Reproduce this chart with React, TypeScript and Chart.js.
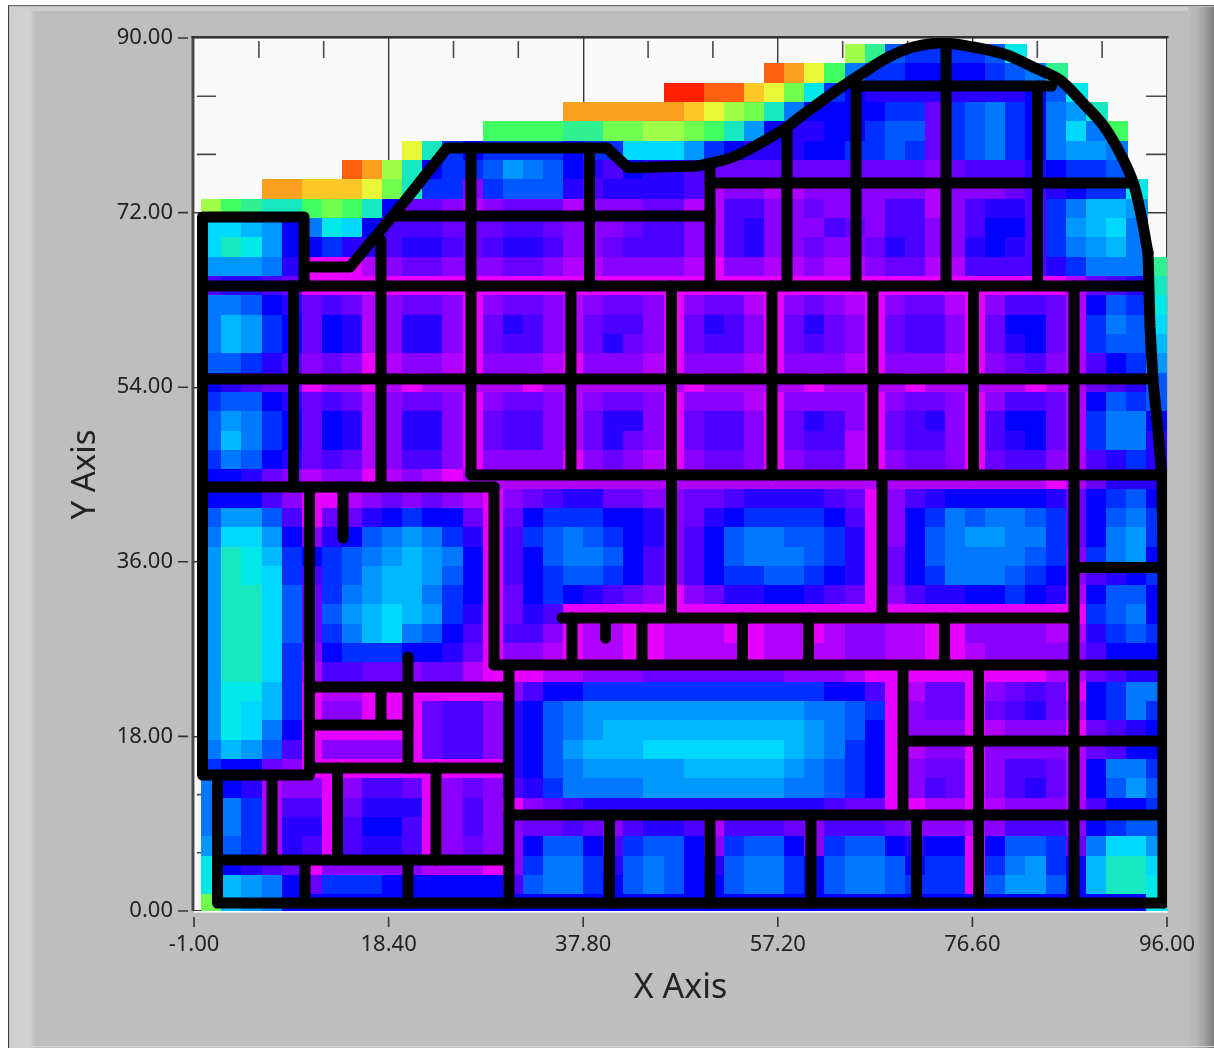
import React, { useEffect, useRef } from "react";
import { Chart, registerables } from "chart.js";

Chart.register(...registerables);

const xTicks = [-1, 18.4, 37.8, 57.2, 76.6, 96];
const yTicks = [0, 18, 36, 54, 72, 90];
const xMinorTicks = [5.47, 11.93, 24.87, 31.33, 44.27, 50.73, 63.67, 70.13, 83.07, 89.53];
const yMinorTicks = [6, 12, 24, 30, 42, 48, 60, 66, 78, 84];

// one letter per intensity step, low to high
const levels = "abcdefghijklmnopqrstuvwx";
const colors = [
  "#e600ff", "#b000ff", "#8a00ff", "#6800ff", "#4c00ff", "#2800ff", "#0000ff", "#0030ff",
  "#0058ff", "#0078ff", "#0098ff", "#00b8ff", "#00d8ff", "#00e8e8", "#18e8c0", "#30f090",
  "#40ff60", "#70ff50", "#a0ff48", "#e8f838", "#fbc828", "#fba020", "#ff6010", "#ff2000",
];

// intensity rows, top row first; "." is an empty cell
const heatRows = [
  ".......... .......... .......... ..spihhhhi n.......",
  ".......... .......... ........wv tqjhhggggh ijp.....",
  ".......... .......... ...xxwwutr nhgfffffff fgin....",
  ".......... ........vv vvvvutsroj gggghhdhij hgjko...",
  ".......... ....qqqqpp rrssrqokgf fgghiidhij hgjmjq..",
  ".......... tohghhhhgh hmmmkhgfff gghhihdhij hgjkkj..",
  ".......wvs oghhikjigf egffeddddd ddddddcdee efghhi..",
  "...vvuuutr ohhchiiife ffffebccbb ccccccbccc defghhn.",
  "sqpooqrqog ddcbcdddbc ccddbbeecc dccceebcef fehjllk.",
  "mmlkgjnmge eedddeedcc cdeecbefcc cedceecceg gehklmj.",
  "monkgghffe ffedeffecc deeecbefcc dccdfeccfg fehjklj.",
  "kkkjfaaabc ddcccddcbb ccccbaccbb cbbcddbbee eefhjjjp",
  "effedaaaaa aaaaaaaaaa aaaaaaaaaa aaaaaaaaaa aaabdefo",
  "jjigfdedbc ddcacddcbc ddcacddbac dcbacddbac eedbgihn",
  "jlkhgdgfbc ffcadfecbd eecadfecad fdcadeecad ggdbhjim",
  "jlkhgdgfbc ffcadeecbd fdcadeecad edcadeecad fgdbhiil",
  "iihfecdcab ccbacccbac ccbacccbac ccbacccbac decbeghk",
  "gfeddabbab abbbbbabbb bbbbabbbbb abbbbabbbb babbdefi",
  "hiigfdedbc ddcacddcbc ddcacccbac cccacddcac eedbgihi",
  "ikjhgdgfbc ffcadeecbd ffcadeecad fecadefcae ggdbhjjg",
  "iljhgdgfbc ffcadeecbd fdcadeecad eebadeecae fgdbhjjf",
  "hjigfdedbc eecaccccac dcbacddcac ddbacddcad eecbefhf",
  "ggfdcbccab cbabbbbbbb bbbbbbbbbb bbbbbbbbbb bbabdfff",
  "gggecaabcd cdcbacdeff ddccddefff fedacefggg ggfdghig",
  "ikkieaddfg hggdadghhh ggfcdfghhh hgeacghjij jihdgijh",
  "jmmkgcfgij kjhfaehiji hgfcegijji ihfacgijkk jjhdgjkh",
  "konlhghijk lkjgaegijj igecegijjj ihfadgijjj jihchjkg",
  "konmhehikl lkigaeghii hgeceghhii hgfadghjjj ihgcefgh",
  "koomidhjkl ljhgadghgf edcacdffgg fedaceffgg hgfbgiig",
  "koomidiklm lkhfadfeaa aaaaaaaaaa aaaaaaaaaa aaaahijg",
  "koomidhjlm jigeaeecab baabbbaabb abccbbaacc ccbbfhih",
  "koomhcghhh ggfdaccbab baabbbbabb bbccbbaabc cccceggg",
  "koomhbeedd cddbaaabbc ccdddddddc ccbaaaaaaa aabbdeff",
  "knnlhabbaa aaaaaceggh hhhhhhhhhh hggeabddac dedaghjj",
  "knmlhaccaa adeecfgijk kkkkkkkkkk jjihacddad efdbghjh",
  "knmjgaaaaa adeecfgijk llllllllll kjigacccab cccadefg",
  "jlkieacccc adeecfgikl llmmmmmmml kjhgabccac cccbdegg",
  "hggdcaaaaa aaaaafgijk kkkklllllk jihgacddac eedbgjjh",
  "jgfbccacee dacdcefhjj jjkkkkkkkj jihgacedac efdbgiki",
  "jjhbeeadff facecacdef ffffffffff feddaabbab cccbeggh",
  "jjhbffaegg eaceccdded ceffebeeed ceeedcccbc eeecghii",
  "kihbfeaeff eacdccgiig ehiigchiig chiigfggag iihdjmmk",
  "ngfedacccc cbbbachjjh fijigfijjh gijjighhah jkhgloom",
  "nlkjgdhhhg gggggeijjh gijiggijjh gijjihhhai kkigloon",
  "rlkjgggggg gggggggggg gggggggggg gggggggggg gggggggn",
];

// black outline strokes as [x, y] pairs
const outlineStraight = [
  [9.97, 66.39], [14.55, 66.39], [19.54, 72.58], [24.22, 78.66], [40.17, 78.66], [42.27, 76.63], [49.15, 76.8],
];
const outlineCurve = [
  [49.15, 76.8], [52.73, 77.73], [57.72, 80.52], [59.41, 81.86], [62.7, 84.33], [65.39, 86.19],
  [68.09, 87.94], [70.68, 89.07], [73.67, 89.48], [76.66, 89.07], [80.05, 88.25], [82.64, 87.01],
  [85.33, 85.67], [87.62, 83.3], [89.62, 81.03], [91.31, 78.14], [92.61, 75.15], [93.31, 72.27],
  [94.11, 67.84],
];
const outlineRight = [
  [94.11, 67.84], [94.3, 60.21], [94.6, 54.74], [95.1, 49.59], [95.5, 44.43], [95.6, 36.19], [95.6, 0.82],
];
const frameLeft = [[9.97, 64.43], [9.97, 71.55], [-0.15, 71.55], [-0.15, 14.02], [10.51, 14.02], [10.51, 43.71]];
const frameBottom = [[1.34, 14.02], [1.34, 0.82], [95.6, 0.82]];
const hLines = [
  [-0.15, 64.43, 94.1], [-0.15, 54.85, 94.6], [-0.15, 43.71, 28.91], [26.61, 44.95, 95.6],
  [18.84, 71.65, 50.44], [50.44, 75.05, 92.61], [65.0, 85.05, 84.5],
  [35.69, 30.21, 86.73], [28.91, 25.36, 95.6], [30.4, 9.9, 95.6], [69.68, 17.53, 95.6],
  [86.73, 35.41, 95.6], [10.51, 23.09, 30.4], [10.51, 19.18, 20.33], [10.51, 14.74, 30.4],
  [1.34, 5.26, 30.4],
];
const vLines = [
  [8.92, 64.43, 43.71], [17.64, 69.18, 43.71], [26.61, 78.66, 44.95], [38.43, 78.66, 64.43],
  [50.44, 76.91, 64.43], [58.12, 80.72, 64.43], [65.0, 85.46, 64.43], [73.97, 89.28, 64.43],
  [83.09, 85.05, 64.43], [36.58, 64.43, 44.95], [46.6, 64.43, 30.21], [56.62, 64.43, 44.95],
  [66.69, 64.43, 44.95], [76.71, 64.43, 44.95], [86.73, 64.43, 0.82], [67.59, 44.95, 30.21],
  [28.91, 43.71, 25.36], [30.4, 25.36, 0.82], [36.68, 30.21, 25.36], [43.66, 30.21, 25.36],
  [53.68, 30.21, 25.36], [60.26, 30.21, 25.36], [73.82, 30.21, 25.36], [40.02, 30.21, 28.14],
  [69.68, 25.36, 9.9], [77.21, 25.36, 0.82], [40.42, 9.9, 0.82], [50.44, 9.9, 0.82],
  [60.51, 9.9, 0.82], [71.03, 9.9, 0.82], [6.78, 14.02, 5.26], [13.31, 14.74, 5.26],
  [23.13, 14.74, 5.26], [10.07, 5.26, 0.82], [20.33, 5.26, 0.82], [20.33, 26.19, 14.74],
  [17.64, 23.09, 19.18], [13.85, 43.71, 38.45],
];

// heat grid origin and pitch in axis units
const gridLeft = -0.183;
const gridTop = 89.28;
const pitchX = 2.004;
const pitchY = 1.992;

const heatPoints: { x: number; y: number; v: number }[] = [];
heatRows.forEach((row, i) => {
  row.replace(/ /g, "").split("").forEach((ch, k) => {
    const v = levels.indexOf(ch);
    if (v >= 0) heatPoints.push({ x: gridLeft + pitchX * (k + 0.5), y: gridTop - pitchY * (i + 0.5), v });
  });
});

const cellCache = new Map<string, HTMLCanvasElement>();
function cellCanvas(v: number, w: number, h: number) {
  const key = v + ":" + w + ":" + h;
  let c = cellCache.get(key);
  if (!c) {
    c = document.createElement("canvas");
    c.width = w;
    c.height = h;
    const g = c.getContext("2d")!;
    g.fillStyle = colors[v];
    g.fillRect(0, 0, w, h);
    cellCache.set(key, c);
  }
  return c;
}

const stroke = (data: { x: number; y: number }[], key: string, tension = 0) => ({
  label: key,
  data,
  showLine: true,
  borderColor: "#000",
  borderWidth: 11,
  borderCapStyle: "round",
  borderJoinStyle: "round",
  pointRadius: 0,
  tension,
  clip: 0,
  order: 1,
});

const toPts = (a: number[][]) => a.map(([x, y]) => ({ x, y }));

const plotFrame = {
  id: "plotFrame",
  beforeDraw(chart: any) {
    const { ctx, chartArea: a } = chart;
    ctx.save();
    ctx.fillStyle = "#fafafa";
    ctx.fillRect(a.left, a.top, a.right - a.left + 1, a.bottom - a.top);
    ctx.restore();
  },
  beforeDatasetsDraw(chart: any) {
    const { ctx, chartArea: a, scales } = chart;
    ctx.save();
    ctx.strokeStyle = "#4a4a4a";
    ctx.lineWidth = 1.6;
    ctx.beginPath();
    xMinorTicks.forEach((t) => {
      const x = scales.x.getPixelForValue(t);
      ctx.moveTo(x, a.top + 3);
      ctx.lineTo(x, a.top + 20);
      ctx.moveTo(x, a.bottom - 3);
      ctx.lineTo(x, a.bottom - 20);
    });
    yMinorTicks.forEach((t) => {
      const y = scales.y.getPixelForValue(t);
      ctx.moveTo(a.left + 3, y);
      ctx.lineTo(a.left + 22, y);
      ctx.moveTo(a.right - 21, y);
      ctx.lineTo(a.right, y);
    });
    ctx.stroke();
    ctx.restore();
  },
  afterDatasetsDraw(chart: any) {
    const { ctx, chartArea: a, scales } = chart;
    ctx.save();
    ctx.strokeStyle = "#333";
    ctx.lineWidth = 1.6;
    ctx.beginPath();
    xTicks.forEach((t) => {
      const x = scales.x.getPixelForValue(t);
      ctx.moveTo(x, a.bottom + 6);
      ctx.lineTo(x, a.bottom + 16);
    });
    yTicks.forEach((t) => {
      const y = scales.y.getPixelForValue(t);
      ctx.moveTo(a.left - 16, y);
      ctx.lineTo(a.left - 6, y);
    });
    ctx.stroke();
    ctx.fillStyle = "#4a4a4a";
    ctx.fillRect(a.left - 2.5, a.top - 2, 2.5, a.bottom - a.top + 2);
    ctx.fillStyle = "#333";
    ctx.fillRect(a.left - 2.5, a.top - 2, a.right - a.left + 4, 2.2);
    ctx.fillStyle = "#ffffff";
    ctx.fillRect(a.left, a.bottom, a.right - a.left + 1, 1.6);
    ctx.restore();
  },
};

export default function App() {
  const ref = useRef<HTMLCanvasElement>(null);
  useEffect(() => {
    const datasets: any[] = [
      {
        label: "Intensity",
        data: heatPoints,
        showLine: false,
        order: 10,
        clip: 0,
        pointRadius: 1,
        pointBorderWidth: 0,
        pointStyle: (ctx: any) => {
          const sx = ctx.chart.scales.x;
          const sy = ctx.chart.scales.y;
          if (!sx || !sy || ctx.dataIndex === undefined) return "rect";
          const w = Math.ceil(Math.abs(sx.getPixelForValue(pitchX) - sx.getPixelForValue(0))) + 1;
          const h = Math.ceil(Math.abs(sy.getPixelForValue(pitchY) - sy.getPixelForValue(0))) + 1;
          if (!(w > 2 && h > 2)) return "rect";
          return cellCanvas(heatPoints[ctx.dataIndex].v, w, h);
        },
      },
      stroke(toPts(outlineStraight), "outlineStraight"),
      stroke(toPts(outlineCurve), "outlineCurve", 0.3),
      stroke(toPts(outlineRight), "outlineRight"),
      stroke(toPts(frameLeft), "frameLeft"),
      stroke(toPts(frameBottom), "frameBottom"),
      ...hLines.map(([x0, y, x1], i) => stroke([{ x: x0, y }, { x: x1, y }], "h" + i)),
      ...vLines.map(([x, y0, y1], i) => stroke([{ x, y: y0 }, { x, y: y1 }], "v" + i)),
    ];
    const tickFont = { family: "'Noto Sans'", size: 22 };
    const xTitleFont = { family: "'Noto Sans'", size: 34 };
    const yTitleFont = { family: "'Noto Sans'", size: 33 };
    const chart = new Chart(ref.current!, {
      type: "scatter",
      data: { datasets },
      plugins: [plotFrame],
      options: {
        responsive: false,
        animation: false,
        layout: { padding: { top: 38, right: 47, left: 0, bottom: 0 } },
        plugins: { legend: { display: false }, tooltip: { enabled: false } },
        events: [],
        scales: {
          x: {
            type: "linear",
            min: -1,
            max: 96,
            afterBuildTicks: (s: any) => { s.ticks = xTicks.map((value) => ({ value })); },
            afterFit: (s: any) => { s.height = 137; },
            grid: { color: "#3a3a3a", lineWidth: 1.4, drawTicks: true, tickLength: 6, tickColor: "rgba(0,0,0,0)" },
            border: { display: false },
            ticks: {
              autoSkip: false,
              maxRotation: 0,
              padding: 15,
              color: "#222",
              font: tickFont,
              callback: (v: any) => Number(v).toFixed(2),
            },
            title: { display: true, text: "X Axis", color: "#222", font: xTitleFont, padding: { top: 0, bottom: 39.6 } },
          },
          y: {
            type: "linear",
            min: 0,
            max: 90,
            afterBuildTicks: (s: any) => { s.ticks = yTicks.map((value) => ({ value })); },
            afterFit: (s: any) => { s.width = 194; },
            grid: { color: "#3a3a3a", lineWidth: 1.4, drawTicks: false },
            border: { display: false },
            ticks: {
              autoSkip: false,
              padding: 21,
              color: "#222",
              font: tickFont,
              callback: (v: any) => Number(v).toFixed(2),
            },
            title: { display: true, text: "Y Axis", color: "#222", font: yTitleFont, padding: { top: 66, bottom: 0 } },
          },
        },
      } as any,
    } as any);
    return () => chart.destroy();
  }, []);

  return (
    <div style={{ position: "fixed", left: 0, top: 0, width: 1214, height: 1048, overflow: "hidden", background: "#fff" }}>
      <div style={{ position: "absolute", left: 8, top: 5, right: 0, bottom: 0, background: "#bebebe", borderLeft: "1.5px solid #444", borderTop: "1.5px solid #666" }} />
      <div style={{ position: "absolute", left: 10, top: 7, width: 25, bottom: 0, background: "linear-gradient(90deg,#cfcfcf 0%,#d2d2d2 80%,#bebebe 100%)" }} />
      <div style={{ position: "absolute", left: 10, top: 7, right: 0, height: 4, background: "#cfcfcf" }} />
      <div style={{ position: "absolute", right: 0, top: 7, width: 26, bottom: 0, background: "linear-gradient(90deg,#bebebe 0%,#b4b4b4 35%,#a0a0a0 65%,#7c7c7c 100%)" }} />
      <div style={{ position: "absolute", left: 25, right: 0, bottom: 1, height: 1, background: "#d4d4d4" }} />
      <canvas ref={ref} width={1214} height={1048} style={{ position: "absolute", left: 0, top: 0, display: "block" }} />
    </div>
  );
}
